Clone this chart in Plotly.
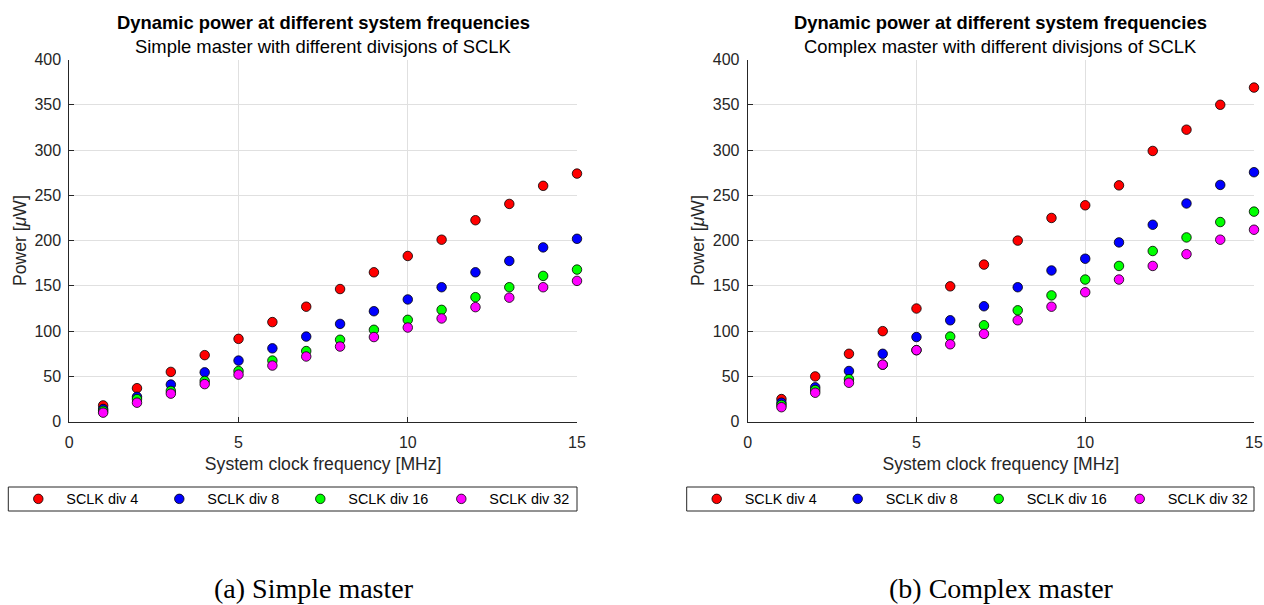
import plotly.graph_objects as go

W, H = 1264, 605

freq = list(range(1, 16))

simple_div4 = [18, 37, 55, 73.5, 91.5, 110, 127, 146.5, 165, 183, 201, 222.5, 240.5, 260.5, 274]
simple_div8 = [14, 27.5, 41, 54.5, 67.5, 81, 94, 108, 122, 135, 148.5, 165, 177.5, 192.5, 202]
simple_div16 = [12, 25, 34, 45, 56, 67.5, 78, 90.5, 101.5, 112.5, 123.5, 137.5, 148.5, 161, 168]
simple_div32 = [10, 21, 31, 41.5, 52, 62, 72, 83, 93.5, 104, 114, 126.5, 137, 148.5, 155.5]

complex_div4 = [25, 50, 75, 100, 125, 149.5, 173.5, 200, 225, 239, 261, 299, 322.5, 350, 369]
complex_div8 = [21, 38, 56, 75, 93.5, 112, 127.5, 148.5, 167, 180, 198, 217.5, 241, 261.5, 275.5]
complex_div16 = [18.5, 35, 47, 63, 79, 94, 106.5, 123, 139.5, 157, 172, 188.5, 203.5, 220.5, 232]
complex_div32 = [16, 32, 43, 63, 79, 85.5, 97, 112, 127, 143, 157, 172, 185, 201, 212]

series_names = ["SCLK div 4", "SCLK div 8", "SCLK div 16", "SCLK div 32"]
series_colors = ["#ff0000", "#0000ff", "#00ff00", "#ff00ff"]

main_title = "Dynamic power at different system frequencies"
sub_titles = ["Simple master with different divisjons of SCLK",
              "Complex master with different divisjons of SCLK"]
captions = ["(a) Simple master", "(b) Complex master"]
x_label = "System clock frequency [MHz]"
y_label = "Power [<i>\u03bc</i>W]"

def px(x):
    return x / W

def py(y):
    return 1 - y / H

fig = go.Figure()

panels = [
    (simple_div4, simple_div8, simple_div16, simple_div32),
    (complex_div4, complex_div8, complex_div16, complex_div32),
]

for p, data in enumerate(panels):
    xa = "x" if p == 0 else "x2"
    ya = "y" if p == 0 else "y2"
    lg = "legend" if p == 0 else "legend2"
    for name, color, vals in zip(series_names, series_colors, data):
        fig.add_trace(go.Scatter(
            x=freq, y=vals, mode="markers", name="\u00a0\u00a0" + name,
            xaxis=xa, yaxis=ya, legend=lg, cliponaxis=False,
            marker=dict(color=color, size=9.5, line=dict(color="#000000", width=0.8)),
        ))

axis_font = dict(family="Liberation Sans, Arial, sans-serif", size=16, color="#262626")
label_font = dict(family="Liberation Sans, Arial, sans-serif", size=17.6, color="#262626")

x_domains = [(px(69.3), px(577)), (px(747.7), px(1254))]
y_domain = (py(421.7), py(59.5))

common_x = dict(range=[0, 15], dtick=5, tick0=0, showgrid=True, gridcolor="#e0e0e0",
                gridwidth=1, zeroline=False, showline=True, linecolor="#262626", linewidth=1,
                ticks="inside", ticklen=5, tickcolor="#262626", tickfont=axis_font,
                ticklabelstandoff=6,
                title=dict(text=x_label, font=label_font, standoff=7))
common_y = dict(range=[0, 400], dtick=50, tick0=0, showgrid=True, gridcolor="#e0e0e0",
                gridwidth=1, zeroline=False, showline=True, linecolor="#262626", linewidth=1,
                ticks="inside", ticklen=5, tickcolor="#262626", tickfont=axis_font,
                ticklabelstandoff=4,
                title=dict(text=y_label, font=label_font, standoff=3))

fig.update_layout(
    width=W, height=H, autosize=False,
    margin=dict(l=0, r=0, t=0, b=0, autoexpand=False),
    plot_bgcolor="#ffffff", paper_bgcolor="#ffffff",
    xaxis=dict(domain=list(x_domains[0]), anchor="y", **common_x),
    yaxis=dict(domain=list(y_domain), anchor="x", **common_y),
    xaxis2=dict(domain=list(x_domains[1]), anchor="y2", **common_x),
    yaxis2=dict(domain=list(y_domain), anchor="x2", **common_y),
    showlegend=True,
)

legend_font = dict(family="Liberation Sans, Arial, sans-serif", size=14.4, color="#000000")
legend_boxes = [(8.3, 577), (686.7, 1254)]
for i, (lx0, lx1) in enumerate(legend_boxes):
    key = "legend" if i == 0 else "legend2"
    fig.update_layout(**{key: dict(
        orientation="h", x=px(lx0 + 10), xanchor="left", y=py(499), yanchor="middle",
        bgcolor="rgba(0,0,0,0)", borderwidth=0, font=legend_font,
        entrywidth=96, itemwidth=30, traceorder="normal",
    )})
    fig.add_shape(type="rect", xref="paper", yref="paper",
                  x0=px(lx0), x1=px(lx1), y0=py(511), y1=py(487),
                  line=dict(color="#262626", width=1), fillcolor="rgba(0,0,0,0)", layer="above")

anns = []
centers = [(69.3 + 577) / 2, (747.7 + 1254) / 2]
title_font = dict(family="Liberation Sans, Arial, sans-serif", size=18.4, color="#000000")
for i, c in enumerate(centers):
    anns.append(dict(text="<b>" + main_title + "</b>", x=px(c), y=py(22), xref="paper", yref="paper",
                     xanchor="center", yanchor="middle", showarrow=False, font=title_font))
    anns.append(dict(text=sub_titles[i], x=px(c), y=py(46), xref="paper", yref="paper",
                     xanchor="center", yanchor="middle", showarrow=False, font=title_font))
cap_centers = [314, 1001]
for i, c in enumerate(cap_centers):
    anns.append(dict(text=captions[i], x=px(c), y=py(588), xref="paper", yref="paper",
                     xanchor="center", yanchor="middle", showarrow=False, borderpad=0,
                     font=dict(family="Liberation Serif, Times New Roman, serif", size=28, color="#000000")))
fig.update_layout(annotations=anns)

fig.write_html("out.html")
